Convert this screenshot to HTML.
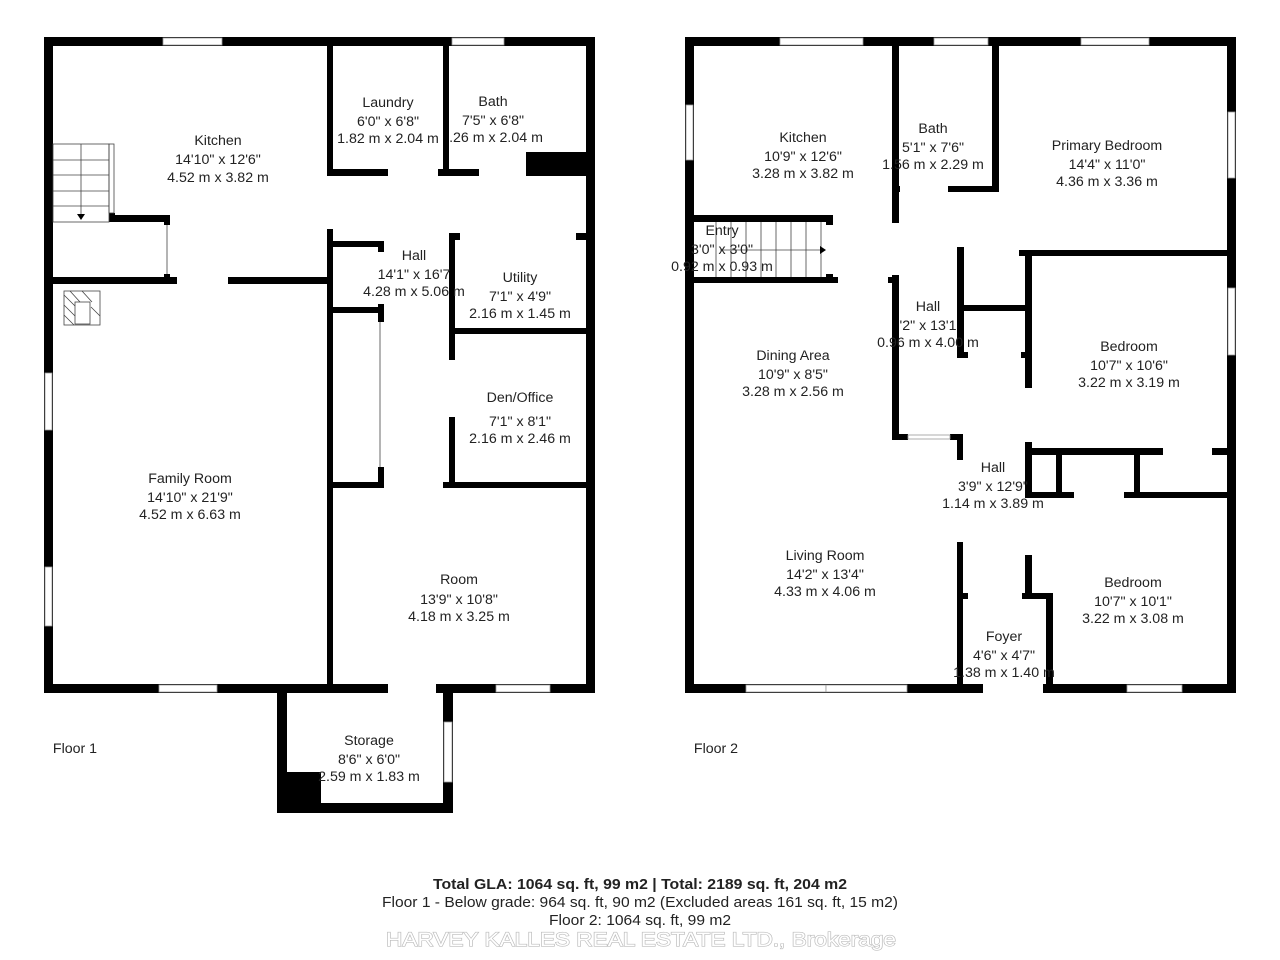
<!DOCTYPE html>
<html><head><meta charset="utf-8"><style>
html,body{margin:0;padding:0;background:#fff;width:1280px;height:960px;overflow:hidden}
svg text{font-family:"Liberation Sans","DejaVu Sans",sans-serif;font-size:14.2px;fill:#222;text-anchor:middle}
</style></head><body>
<svg width="1280" height="960" viewBox="0 0 1280 960" xmlns="http://www.w3.org/2000/svg">
<g fill="#000">
<rect x="44" y="37" width="551" height="9"/>
<rect x="44" y="37" width="9" height="656"/>
<rect x="586" y="37" width="9" height="656"/>
<rect x="44" y="684" width="551" height="9"/>
<rect x="327" y="46" width="6" height="130"/>
<rect x="327" y="229" width="6" height="455"/>
<rect x="443" y="46" width="6" height="130"/>
<rect x="327" y="169" width="61" height="7"/>
<rect x="438" y="169" width="41" height="7"/>
<rect x="526" y="152" width="60" height="24"/>
<rect x="109" y="213" width="6" height="9"/>
<rect x="109" y="215" width="61" height="7"/>
<rect x="164" y="215" width="6" height="10"/>
<rect x="53" y="277" width="124" height="7"/>
<rect x="164" y="274" width="6" height="10"/>
<rect x="228" y="277" width="99" height="7"/>
<rect x="333" y="241" width="51" height="6"/>
<rect x="378" y="241" width="6" height="11"/>
<rect x="333" y="307" width="51" height="6"/>
<rect x="378" y="304" width="6" height="18"/>
<rect x="378" y="467" width="6" height="17"/>
<rect x="333" y="482" width="51" height="6"/>
<rect x="443" y="482" width="152" height="6"/>
<rect x="449" y="233" width="6" height="127"/>
<rect x="449" y="417" width="6" height="71"/>
<rect x="449" y="233" width="11" height="7"/>
<rect x="576" y="233" width="10" height="7"/>
<rect x="455" y="328" width="131" height="6"/>
<rect x="277" y="693" width="10" height="120"/>
<rect x="443" y="693" width="10" height="120"/>
<rect x="277" y="803" width="176" height="10"/>
<rect x="277" y="772" width="44" height="41"/>

<rect x="685" y="37" width="551" height="9"/>
<rect x="685" y="37" width="9" height="656"/>
<rect x="1227" y="37" width="9" height="656"/>
<rect x="685" y="684" width="551" height="9"/>
<rect x="892" y="46" width="7" height="177"/>
<rect x="892" y="275" width="7" height="165"/>
<rect x="992" y="46" width="7" height="146"/>
<rect x="948" y="186" width="51" height="6"/>
<rect x="892" y="186" width="8" height="6"/>
<rect x="694" y="215" width="139" height="7"/>
<rect x="826" y="215" width="7" height="10"/>
<rect x="694" y="277" width="144" height="6"/>
<rect x="826" y="274" width="7" height="9"/>
<rect x="888" y="277" width="11" height="6"/>
<rect x="957" y="247" width="7" height="111"/>
<rect x="964" y="305" width="66" height="6"/>
<rect x="957" y="352" width="11" height="6"/>
<rect x="1021" y="352" width="9" height="6"/>
<rect x="1019" y="250" width="217" height="6"/>
<rect x="1025" y="250" width="7" height="138"/>
<rect x="892" y="434" width="16" height="6"/>
<rect x="950" y="434" width="13" height="6"/>
<rect x="957" y="434" width="6" height="26"/>
<rect x="957" y="542" width="6" height="151"/>
<rect x="957" y="593" width="11" height="6"/>
<rect x="1022" y="593" width="31" height="6"/>
<rect x="1046" y="593" width="7" height="100"/>
<rect x="1025" y="555" width="7" height="44"/>
<rect x="1025" y="442" width="7" height="56"/>
<rect x="1025" y="448" width="138" height="7"/>
<rect x="1212" y="448" width="24" height="7"/>
<rect x="1025" y="492" width="49" height="6"/>
<rect x="1124" y="492" width="112" height="6"/>
<rect x="1056" y="455" width="6" height="37"/>
<rect x="1134" y="455" width="6" height="37"/>
</g>
<g fill="#fff" stroke="#999" stroke-width="0.8">
<rect x="163" y="38" width="59" height="7"/><rect x="452" y="38" width="52" height="7"/>
<rect x="45" y="373" width="7" height="57"/><rect x="45" y="567" width="7" height="59"/>
<rect x="159" y="685" width="58" height="7"/><rect x="496" y="685" width="54" height="7"/>
<rect x="444" y="722" width="8" height="60"/>
<rect x="780" y="38" width="83" height="7"/><rect x="934" y="38" width="54" height="7"/><rect x="1081" y="38" width="68" height="7"/>
<rect x="686" y="105" width="7" height="55"/>
<rect x="1228" y="112" width="7" height="66"/><rect x="1228" y="288" width="7" height="67"/>
<rect x="746" y="685" width="80" height="7"/><rect x="826" y="685" width="81" height="7"/><rect x="1127" y="685" width="55" height="7"/>
<rect x="908" y="435" width="42" height="4"/>
</g>
<g fill="#fff"><rect x="388" y="684" width="48" height="9"/><rect x="983" y="684" width="60" height="9"/></g>
<g fill="none" stroke="#444" stroke-width="0.8">
<rect x="53" y="144" width="56" height="78"/>
<line x1="53" y1="160" x2="109" y2="160"/><line x1="53" y1="175" x2="109" y2="175"/><line x1="53" y1="191" x2="109" y2="191"/><line x1="53" y1="206" x2="109" y2="206"/>
<line x1="81" y1="144" x2="81" y2="218"/>
<rect x="109" y="144" width="5" height="69"/>
<line x1="167" y1="225" x2="167" y2="274"/>
<rect x="64" y="291" width="36" height="34"/><rect x="75" y="302" width="15" height="22"/>
<line x1="64" y1="295" x2="75" y2="306"/><line x1="64" y1="305" x2="75" y2="316"/><line x1="64" y1="315" x2="74" y2="325"/><line x1="70" y1="291" x2="80" y2="302"/><line x1="82" y1="291" x2="92" y2="302"/><line x1="91" y1="307" x2="100" y2="316"/>
<line x1="380" y1="322" x2="380" y2="467"/>
<line x1="716" y1="222" x2="716" y2="277"/><line x1="731" y1="222" x2="731" y2="277"/><line x1="746" y1="222" x2="746" y2="277"/><line x1="761" y1="222" x2="761" y2="277"/><line x1="776" y1="222" x2="776" y2="277"/><line x1="791" y1="222" x2="791" y2="277"/><line x1="806" y1="222" x2="806" y2="277"/><line x1="821" y1="222" x2="821" y2="277"/>
<line x1="720" y1="250" x2="822" y2="250"/>
</g>
<g fill="#000"><polygon points="77,214 85,214 81,220"/><polygon points="820,246 820,254 826,250"/></g>
<text x="218" y="145">Kitchen</text><text x="218" y="164">14'10" x 12'6"</text><text x="218" y="182">4.52 m x 3.82 m</text>
<text x="388" y="107">Laundry</text><text x="388" y="126">6'0" x 6'8"</text><text x="388" y="143">1.82 m x 2.04 m</text>
<text x="493" y="106">Bath</text><text x="493" y="125">7'5" x 6'8"</text><text x="496" y="142">.26 m x 2.04 m</text>
<text x="414" y="260">Hall</text><text x="414" y="279">14'1" x 16'7</text><text x="414" y="296">4.28 m x 5.06 m</text>
<text x="520" y="282">Utility</text><text x="520" y="301">7'1" x 4'9"</text><text x="520" y="318">2.16 m x 1.45 m</text>
<text x="520" y="402">Den/Office</text><text x="520" y="426">7'1" x 8'1"</text><text x="520" y="443">2.16 m x 2.46 m</text>
<text x="190" y="483">Family Room</text><text x="190" y="502">14'10" x 21'9"</text><text x="190" y="519">4.52 m x 6.63 m</text>
<text x="459" y="584">Room</text><text x="459" y="604">13'9" x 10'8"</text><text x="459" y="621">4.18 m x 3.25 m</text>
<text x="369" y="745">Storage</text><text x="369" y="764">8'6" x 6'0"</text><text x="369" y="781">2.59 m x 1.83 m</text>
<text x="75" y="753">Floor 1</text>
<text x="803" y="142">Kitchen</text><text x="803" y="161">10'9" x 12'6"</text><text x="803" y="178">3.28 m x 3.82 m</text>
<text x="933" y="133">Bath</text><text x="933" y="152">5'1" x 7'6"</text><text x="933" y="169">1.56 m x 2.29 m</text>
<text x="1107" y="150">Primary Bedroom</text><text x="1107" y="169">14'4" x 11'0"</text><text x="1107" y="186">4.36 m x 3.36 m</text>
<text x="722" y="235">Entry</text><text x="722" y="254">3'0" x 3'0"</text><text x="722" y="271">0.92 m x 0.93 m</text>
<text x="928" y="311">Hall</text><text x="928" y="330">'2" x 13'1</text><text x="928" y="347">0.96 m x 4.00 m</text>
<text x="1129" y="351">Bedroom</text><text x="1129" y="370">10'7" x 10'6"</text><text x="1129" y="387">3.22 m x 3.19 m</text>
<text x="793" y="360">Dining Area</text><text x="793" y="379">10'9" x 8'5"</text><text x="793" y="396">3.28 m x 2.56 m</text>
<text x="993" y="472">Hall</text><text x="993" y="491">3'9" x 12'9"</text><text x="993" y="508">1.14 m x 3.89 m</text>
<text x="825" y="560">Living Room</text><text x="825" y="579">14'2" x 13'4"</text><text x="825" y="596">4.33 m x 4.06 m</text>
<text x="1133" y="587">Bedroom</text><text x="1133" y="606">10'7" x 10'1"</text><text x="1133" y="623">3.22 m x 3.08 m</text>
<text x="1004" y="641">Foyer</text><text x="1004" y="660">4'6" x 4'7"</text><text x="1004" y="677">1.38 m x 1.40 m</text>
<text x="716" y="753">Floor 2</text>
<text x="640" y="889" textLength="414" lengthAdjust="spacingAndGlyphs" style="font-weight:bold;font-size:15px">Total GLA: 1064 sq. ft, 99 m2 | Total: 2189 sq. ft, 204 m2</text>
<text x="640" y="907" textLength="516" lengthAdjust="spacingAndGlyphs" style="font-size:15px">Floor 1 - Below grade: 964 sq. ft, 90 m2 (Excluded areas 161 sq. ft, 15 m2)</text>
<text x="640" y="925" textLength="182" lengthAdjust="spacingAndGlyphs" style="font-size:15px">Floor 2: 1064 sq. ft, 99 m2</text>
<text x="641" y="946" textLength="510" lengthAdjust="spacingAndGlyphs" style="font-size:19px;fill:#fff;stroke:#bbb;stroke-width:1.2">HARVEY KALLES REAL ESTATE LTD., Brokerage</text>
<text x="641" y="946" textLength="510" lengthAdjust="spacingAndGlyphs" style="font-size:19px;fill:#fff">HARVEY KALLES REAL ESTATE LTD., Brokerage</text>
</svg>
</body></html>
